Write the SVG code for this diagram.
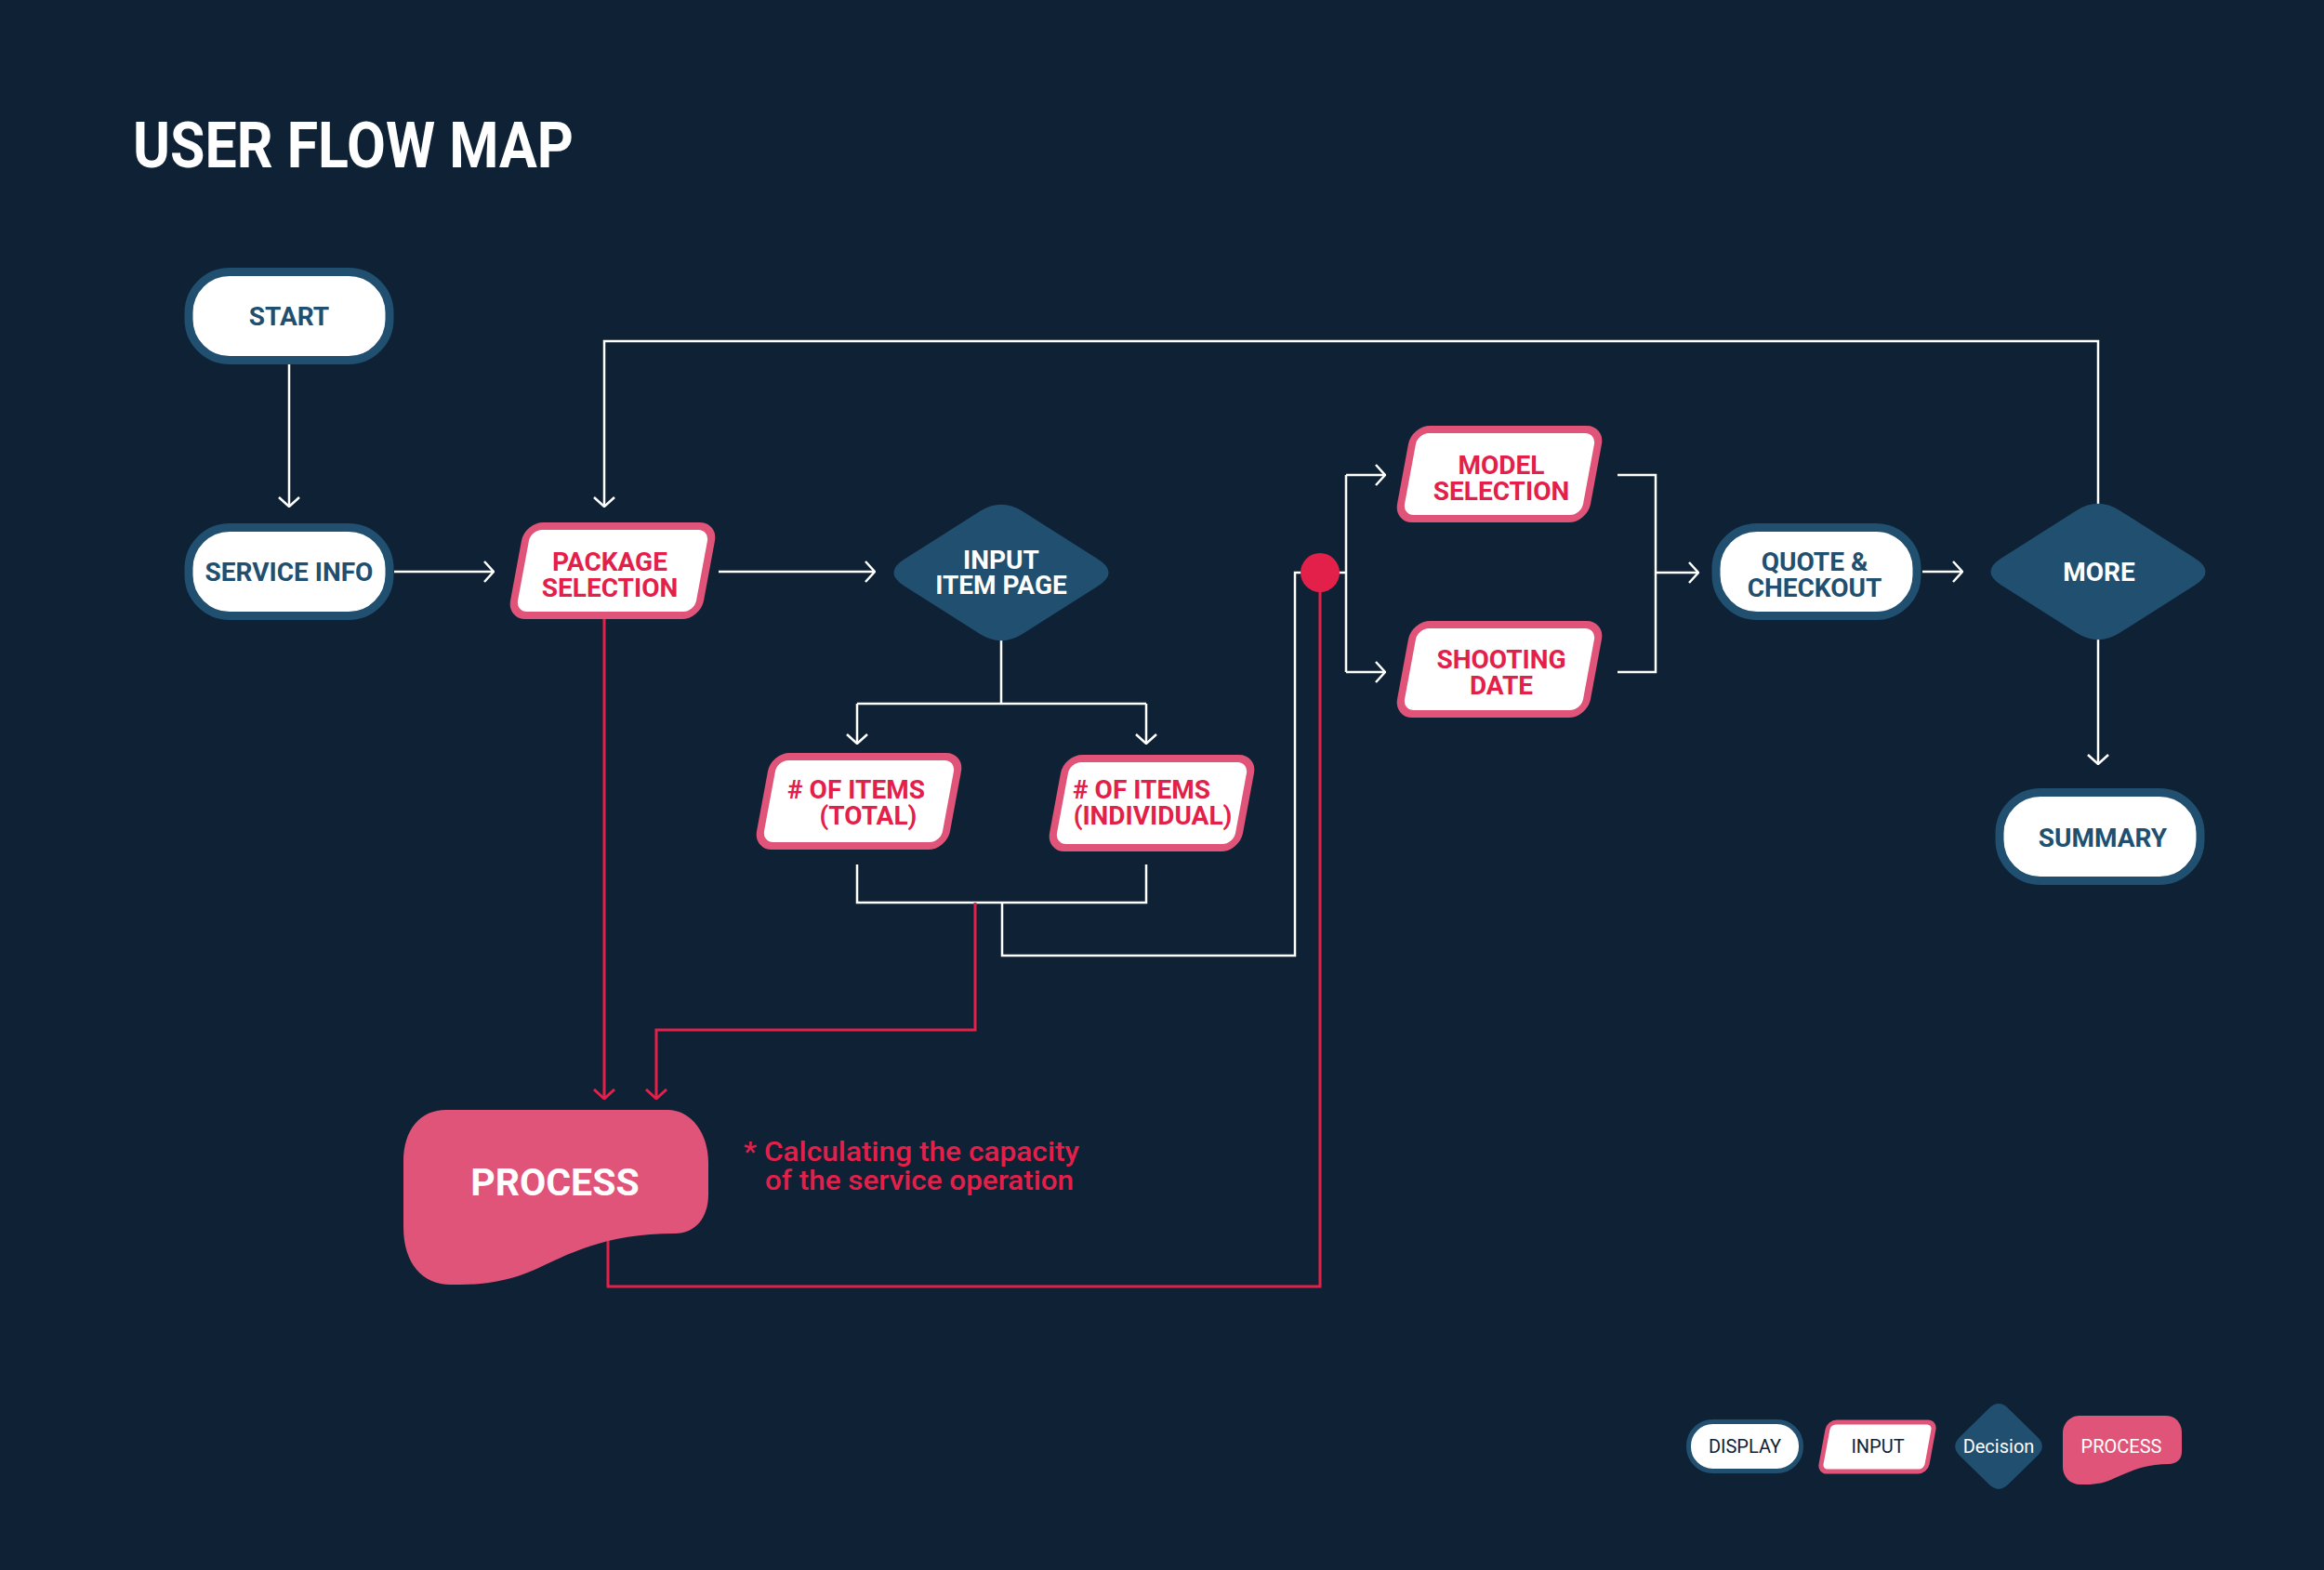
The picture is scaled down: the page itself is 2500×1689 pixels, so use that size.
<svg xmlns="http://www.w3.org/2000/svg" xmlns:xlink="http://www.w3.org/1999/xlink" width="2500" height="1689" viewBox="0 0 2500 1689">
<style>
.bg{fill:#0f2235}
.pill{fill:#ffffff;stroke:#214f70;stroke-width:9}
.inp{fill:#ffffff;stroke:#e05479;stroke-width:8}
.dec{fill:#214f70}
.proc{fill:#e05479}
.t{font-family:Roboto,"Liberation Sans",sans-serif;font-weight:700;font-size:28px;text-anchor:middle}
.big{font-size:41px}
.tb{fill:#214f70}
.tr{fill:#e3204a}
.tw{fill:#ffffff}
.lg{font-family:Roboto,"Liberation Sans",sans-serif;font-weight:400;font-size:20px;text-anchor:middle}
.w{fill:none;stroke:#ffffff;stroke-width:2.5}
.r{fill:none;stroke:#e3204a;stroke-width:3}
</style>
<defs>
<marker id="aw" viewBox="0 0 12 24" refX="11" refY="12" markerWidth="12" markerHeight="24" orient="auto" markerUnits="userSpaceOnUse"><path d="M1,1 L11,12 L1,23" fill="none" stroke="#ffffff" stroke-width="2.5"/></marker>
<marker id="ar" viewBox="0 0 12 24" refX="11" refY="12" markerWidth="12" markerHeight="24" orient="auto" markerUnits="userSpaceOnUse"><path d="M1,1 L11,12 L1,23" fill="none" stroke="#e3204a" stroke-width="3"/></marker>
<path id="diamond" d="M-104.1,-14.5 L-22.9,-66 Q0,-80.5 22.9,-66 L104.1,-14.5 Q127,0 104.1,14.5 L22.9,66 Q0,80.5 -22.9,66 L-104.1,14.5 Q-127,0 -104.1,-14.5 Z"/>
<rect id="pillshape" x="-108" y="-47.5" width="216" height="95" rx="44"/>
<rect id="inshape" x="-100" y="-48" width="200" height="96" rx="16"/>
</defs>
<rect class="bg" x="0" y="0" width="2500" height="1689"/>
<text x="143" y="180" font-family="Roboto,'Liberation Sans',sans-serif" font-weight="700" font-size="68" fill="#ffffff" textLength="474" lengthAdjust="spacingAndGlyphs">USER FLOW MAP</text>

<g id="connectors">
<path class="w" d="M311 391 V545" marker-end="url(#aw)"/>
<path class="w" d="M424 615 H531" marker-end="url(#aw)"/>
<path class="w" d="M773 615 H941" marker-end="url(#aw)"/>
<path class="w" d="M1077 689 V757 M922 757 H1233"/>
<path class="w" d="M922 757 V800" marker-end="url(#aw)"/>
<path class="w" d="M1233 757 V800" marker-end="url(#aw)"/>
<path class="w" d="M922 930 V971 H1233 V930"/>
<path class="w" d="M1078 971 V1028 H1393 V616 H1420"/>
<path class="w" d="M1420 616 H1448 M1448 511 V723"/>
<path class="w" d="M1448 511 H1490" marker-end="url(#aw)"/>
<path class="w" d="M1448 723 H1490" marker-end="url(#aw)"/>
<path class="w" d="M1740 511 H1781 V723 H1740"/>
<path class="w" d="M1781 616 H1827" marker-end="url(#aw)"/>
<path class="w" d="M2068 615 H2111" marker-end="url(#aw)"/>
<path class="w" d="M2257 688 V822" marker-end="url(#aw)"/>
<path class="w" d="M2257 543 V367 H650 V545" marker-end="url(#aw)"/>
<path class="r" d="M650 666 V1182" marker-end="url(#ar)"/>
<path class="r" d="M1049 971 V1108 H706 V1182" marker-end="url(#ar)"/>
<path class="r" d="M654 1330 V1384 H1420 V630"/>
<circle cx="1420" cy="616" r="21" fill="#e3204a"/>
</g>

<g id="start"><use href="#pillshape" class="pill" transform="translate(311,340)"/><text class="t tb" x="311" y="350">START</text></g>
<g id="service-info"><use href="#pillshape" class="pill" transform="translate(311,615)"/><text class="t tb" x="311" y="625">SERVICE INFO</text></g>
<g id="package-selection"><use href="#inshape" class="inp" transform="translate(659,614) skewX(-10.5)"/><text class="t tr" x="656" y="614">PACKAGE</text><text class="t tr" x="656" y="642">SELECTION</text></g>
<g id="input-item-page"><use href="#diamond" class="dec" transform="translate(1077,616)"/><text class="t tw" x="1077" y="612">INPUT</text><text class="t tw" x="1077" y="639">ITEM PAGE</text></g>
<g id="items-total"><use href="#inshape" class="inp" transform="translate(924,862) skewX(-10.5)"/><text class="t tr" x="921" y="859"># OF ITEMS</text><text class="t tr" x="934" y="887">(TOTAL)</text></g>
<g id="items-individual"><use href="#inshape" class="inp" transform="translate(1239,864) skewX(-10.5)"/><text class="t tr" x="1228" y="859"># OF ITEMS</text><text class="t tr" x="1240" y="887">(INDIVIDUAL)</text></g>
<g id="model-selection"><use href="#inshape" class="inp" transform="translate(1613,510) skewX(-10.5)"/><text class="t tr" x="1615" y="510">MODEL</text><text class="t tr" x="1615" y="538">SELECTION</text></g>
<g id="shooting-date"><use href="#inshape" class="inp" transform="translate(1613,720) skewX(-10.5)"/><text class="t tr" x="1615" y="719">SHOOTING</text><text class="t tr" x="1615" y="747">DATE</text></g>
<g id="quote-checkout"><use href="#pillshape" class="pill" transform="translate(1954,615)"/><text class="t tb" x="1952" y="614">QUOTE &amp;</text><text class="t tb" x="1952" y="642">CHECKOUT</text></g>
<g id="more"><use href="#diamond" class="dec" transform="translate(2257,615)"/><text class="t tw" x="2258" y="625">MORE</text></g>
<g id="summary"><use href="#pillshape" class="pill" transform="translate(2259,900)"/><text class="t tb" x="2262" y="911">SUMMARY</text></g>
<g id="process">
<path class="proc" d="M480 1194 H718 C744 1194 762 1220 762 1250 V1285 C762 1310 748 1327 726 1327 C650 1327 610 1350 575 1366 C550 1377 525 1382 495 1382 H485 C455 1382 434 1360 434 1320 V1250 C434 1215 452 1194 480 1194 Z"/>
<text class="t tw big" x="597" y="1286">PROCESS</text>
</g>
<g id="note">
<text x="800" y="1249" font-family="Roboto,'Liberation Sans',sans-serif" font-weight="500" font-size="30" fill="#e3204a" textLength="361" lengthAdjust="spacingAndGlyphs">* Calculating the capacity</text>
<text x="823" y="1280" font-family="Roboto,'Liberation Sans',sans-serif" font-weight="500" font-size="30" fill="#e3204a" textLength="332" lengthAdjust="spacingAndGlyphs">of the service operation</text>
</g>

<g id="legend-display"><rect x="1816.5" y="1529.5" width="121" height="53" rx="26" fill="#ffffff" stroke="#214f70" stroke-width="5"/><text class="lg" x="1877" y="1563" fill="#0f2235">DISPLAY</text></g>
<g id="legend-input"><rect x="-57" y="-26.5" width="114" height="53" rx="8" fill="#ffffff" stroke="#e05479" stroke-width="5" transform="translate(2019.5,1556.5) skewX(-10.5)"/><text class="lg" x="2020" y="1563" fill="#0f2235">INPUT</text></g>
<g id="legend-decision"><path class="dec" d="M2108.4 1545.8 L2139.6 1515.2 Q2150 1505 2160.4 1515.2 L2191.6 1545.8 Q2202 1556 2191.6 1566.2 L2160.4 1596.8 Q2150 1607 2139.6 1596.8 L2108.4 1566.2 Q2098 1556 2108.4 1545.8 Z"/><text class="lg" x="2150" y="1563" fill="#ffffff">Decision</text></g>
<g id="legend-process"><path class="proc" d="M2237 1523 H2330 C2340 1523 2347 1531 2347 1541 V1562 C2347 1570 2341 1575 2333 1575 C2305 1575 2290 1584 2275 1590 C2265 1595 2255 1597 2245 1597 H2238 C2227 1597 2219 1589 2219 1578 V1542 C2219 1531 2227 1523 2237 1523 Z"/><text class="lg" x="2282" y="1563" fill="#ffffff">PROCESS</text></g>
</svg>
